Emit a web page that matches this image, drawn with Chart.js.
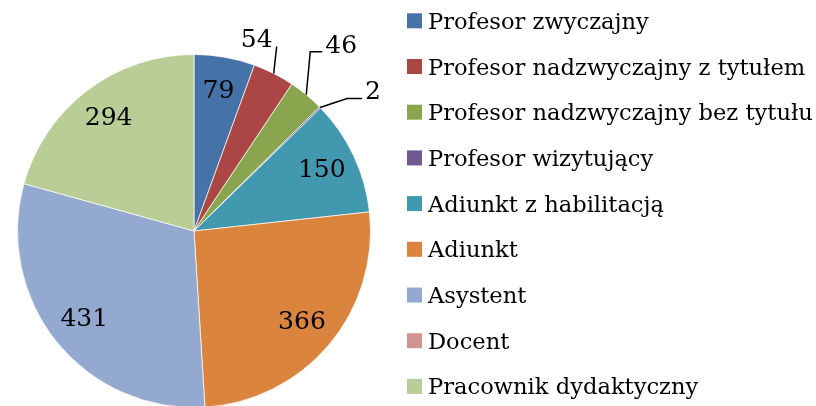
<!DOCTYPE html>
<html>
<head>
<meta charset="utf-8">
<script src="https://cdn.jsdelivr.net/npm/chart.js@4"></script>
<style>
  html, body { margin: 0; padding: 0; background: #fff; overflow: hidden; }
  canvas { display: block; }
</style>
</head>
<body>
<canvas id="staffChart" width="816" height="410"></canvas>
<script>
const categories = [
  "Profesor zwyczajny",
  "Profesor nadzwyczajny z tytułem",
  "Profesor nadzwyczajny bez tytułu",
  "Profesor wizytujący",
  "Adiunkt z habilitacją",
  "Adiunkt",
  "Asystent",
  "Docent",
  "Pracownik dydaktyczny",
];
const staffCounts = [79, 54, 46, 2, 150, 366, 431, 0, 294];

const sliceColors = [
  "#4572A7", "#AA4643", "#89A54E", "#71588F", "#4198AF",
  "#DB843D", "#93A9CF", "#D19392", "#B9CD96",
];

// small slices get an outside label with a leader line
// elbow = offset from the arc edge, tail = horizontal run after the elbow
const leaders = {
  1: { elbow: [3, -27], tail: 0, align: "right" },
  2: { elbow: [4, -43], tail: 12, align: "left" },
  3: { elbow: [27, -9], tail: 15, align: "left" },
};

const labelFont = "25px 'DejaVu Serif'";
const legendFont = "22.6px 'DejaVu Serif'";

const sliceLabels = {
  id: "sliceLabels",
  afterDatasetsDraw(chart) {
    const ctx = chart.ctx;
    const meta = chart.getDatasetMeta(0);
    ctx.save();
    ctx.font = labelFont;
    ctx.fillStyle = "#000";
    ctx.strokeStyle = "#000";
    ctx.lineWidth = 1.5;
    meta.data.forEach((arc, i) => {
      const value = staffCounts[i];
      if (!value) return;
      const mid = (arc.startAngle + arc.endAngle) / 2;
      const r = arc.outerRadius;
      const leader = leaders[i];
      if (!leader) {
        ctx.textAlign = "center";
        ctx.textBaseline = "middle";
        ctx.fillText(String(value), arc.x + Math.cos(mid) * r * 0.8, arc.y + Math.sin(mid) * r * 0.8);
        return;
      }
      const ax = arc.x + Math.cos(mid) * r;
      const ay = arc.y + Math.sin(mid) * r;
      const ex = ax + leader.elbow[0];
      const ey = ay + leader.elbow[1];
      const tx = ex + leader.tail;
      ctx.beginPath();
      ctx.moveTo(ax, ay);
      ctx.lineTo(ex, ey);
      if (leader.tail) ctx.lineTo(tx, ey);
      ctx.stroke();
      ctx.textBaseline = "alphabetic";
      if (leader.align === "right") {
        ctx.textAlign = "right";
        ctx.fillText(String(value), ex - 4, ey);
      } else {
        ctx.textAlign = "left";
        ctx.fillText(String(value), tx + 3, ey + 1);
      }
    });
    ctx.restore();
  },
};

const sideLegend = {
  id: "sideLegend",
  afterDraw(chart) {
    const ctx = chart.ctx;
    const colors = chart.data.datasets[0].backgroundColor;
    ctx.save();
    ctx.font = legendFont;
    ctx.fillStyle = "#000";
    ctx.textAlign = "left";
    ctx.textBaseline = "alphabetic";
    chart.data.labels.forEach((label, i) => {
      const rowY = 20.8 + i * 45.7;
      ctx.fillStyle = colors[i];
      ctx.fillRect(407, rowY - 7.5, 15, 15);
      ctx.fillStyle = "#000";
      ctx.fillText(label, 428, rowY + 8);
    });
    ctx.restore();
  },
};

const ctx = document.getElementById("staffChart");

const myChart = new Chart(ctx, {
  type: "pie",
  data: {
    labels: categories,
    datasets: [
      {
        data: staffCounts,
        backgroundColor: sliceColors,
        borderColor: "rgba(255, 255, 255, 0.7)",
        borderWidth: 1,
      },
    ],
  },
  options: {
    responsive: false,
    animation: false,
    events: [],
    layout: {
      padding: { left: 17, right: 445, top: 54, bottom: 2 },
    },
    plugins: {
      legend: { display: false },
      tooltip: { enabled: false },
    },
  },
  plugins: [sliceLabels, sideLegend],
});
</script>
</body>
</html>
